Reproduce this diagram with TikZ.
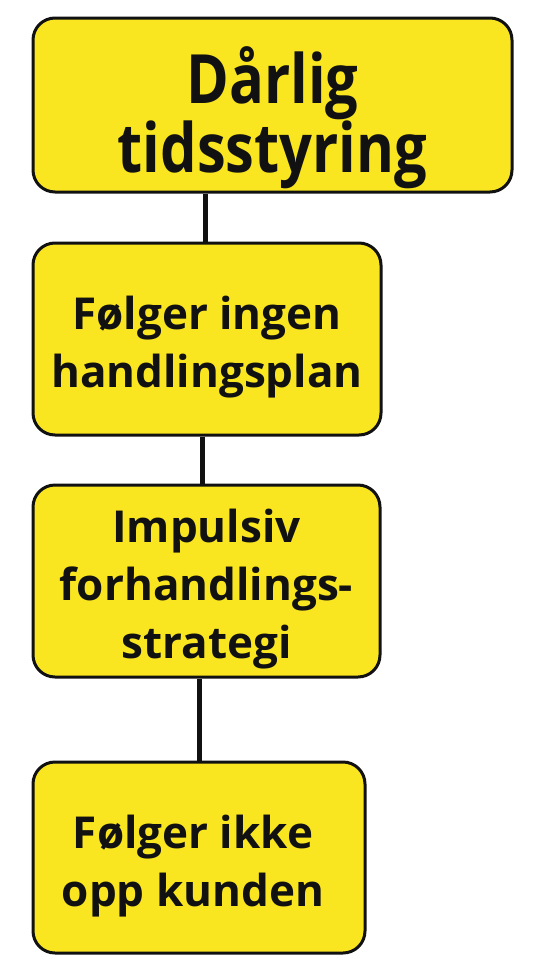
\documentclass[tikz,border=0pt]{standalone}
\usepackage{fontspec}
\setmainfont{Open Sans}
\newfontfamily\bigfont[FakeStretch=0.85]{Open Sans}
\definecolor{signal}{HTML}{F9E520}
\definecolor{ink}{HTML}{111111}
\usetikzlibrary{positioning}
\tikzset{
  causebox/.style={draw=ink, line width=3pt, fill=signal, rounded corners=22pt, inner sep=0pt},
  causetext/.style={align=center, inner sep=0pt, text=ink, font=\fontsize{44}{58}\selectfont\bfseries},
  link/.style={ink, line width=5pt}
}

\begin{document}
\begin{tikzpicture}[x=1pt, y=-1pt]
  \useasboundingbox (0,0) rectangle (545,980);
  % Boxes
  \node[causebox, minimum width=479pt, minimum height=174pt] (tid) at (272.5,105) {};
  \node[causebox, minimum width=348pt, minimum height=192pt] (plan) at (207,339) {};
  \node[causebox, minimum width=347pt, minimum height=192pt] (strat) at (206.5,581) {};
  \node[causebox, minimum width=332pt, minimum height=191pt] (kunde) at (199,857.5) {};
  % Texts
  \node[causetext, font=\bigfont\fontsize{68}{64}\selectfont\bfseries] (tidtext) at ([yshift=-13pt]tid.center) {Dårlig\\tidsstyring};
  \node[causetext] (plantext) at ([yshift=-8pt]plan.center) {Følger ingen\\handlingsplan};
  \node[causetext] (strattext) at ([yshift=-8pt]strat.center) {Impulsiv\\forhandlings-\\strategi};
  \node[causetext] (kundetext) at ([xshift=-6pt, yshift=-9pt]kunde.center) {Følger ikke\\opp kunden};
  % Links
  \draw[link] (tid.south -| 205,0) -- (plan.north -| 205,0);
  \draw[link] (plan.south -| 202,0) -- (strat.north -| 202,0);
  \draw[link] (strat.south -| 199,0) -- (kunde.north -| 199,0);
\end{tikzpicture}
\end{document}
